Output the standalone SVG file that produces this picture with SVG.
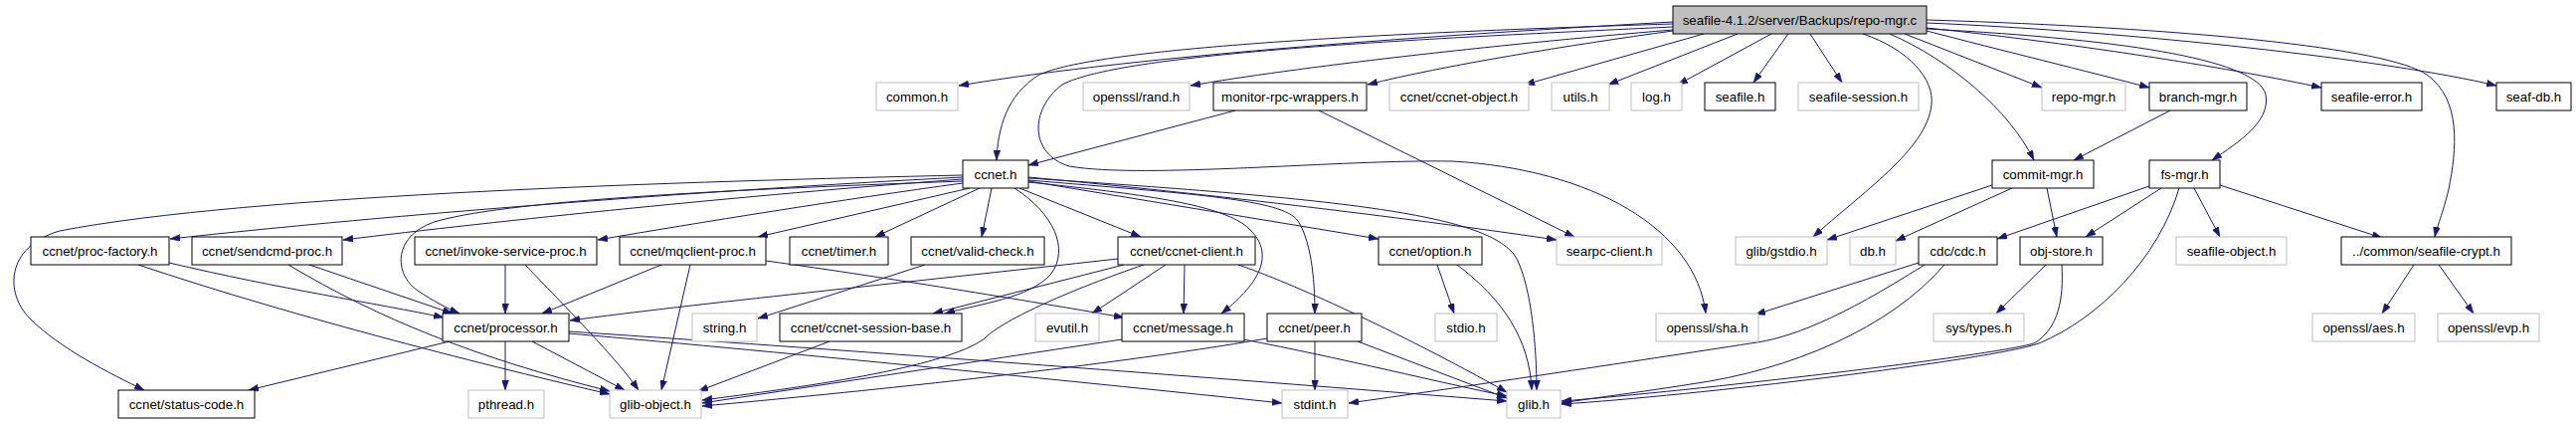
<svg xmlns="http://www.w3.org/2000/svg" width="2590" height="427" viewBox="0 0 2590 427">
<style>
.n rect{fill:#fff;stroke:#000;stroke-width:1}
.g rect{fill:#fff;stroke:#bfbfbf;stroke-width:1}
.r rect{fill:#bfbfbf;stroke:#000;stroke-width:1}
text{font-family:"Liberation Sans",Arial,Helvetica,sans-serif;font-size:13.33px;text-anchor:middle;fill:#000}
#edges path{fill:none;stroke:#191970;stroke-width:1;marker-end:url(#ah)}
</style>
<defs>
<marker id="ah" markerUnits="userSpaceOnUse" markerWidth="10" markerHeight="7" viewBox="0 0 10 7" refX="10" refY="3.5" orient="auto">
<path d="M0,0 L10,3.5 L0,7 z" fill="#191970" stroke="#191970" stroke-width="0.5"/>
</marker>
</defs>
<rect width="2590" height="427" fill="#fff"/>
<g id="edges">
<path d="M1682,22 C1450,35 1150,55 964,86"/>
<path d="M1682,24 C1350,34 1100,50 1045,75 C1012,95 1003,130 1002,161"/>
<path d="M1682,27 C1450,38 1130,52 1068,85 C1035,110 1035,155 1075,167 C1150,180 1350,160 1460,162 C1600,170 1705,230 1715,315"/>
<path d="M1682,30 C1500,45 1300,68 1197,86"/>
<path d="M1682,31 C1580,45 1450,66 1375,85"/>
<path d="M1713,34 L1533,85"/>
<path d="M1747,34 L1617,85"/>
<path d="M1781,34 L1687,85"/>
<path d="M1798,34 L1763,83"/>
<path d="M1820,34 L1852,83"/>
<path d="M1915,34 L2053,88"/>
<path d="M1937,31 C2010,50 2100,72 2161,88"/>
<path d="M1937,28 C2100,45 2250,70 2334,88"/>
<path d="M1937,23 C2150,32 2400,60 2510,86"/>
<path d="M1900,34 C1960,60 2020,110 2045,161"/>
<path d="M1937,29 C2150,40 2270,62 2278,95 C2283,122 2252,142 2224,161"/>
<path d="M1873,34 C1920,50 1945,80 1942,105 C1938,150 1870,195 1823,238"/>
<path d="M1937,20 C2200,28 2400,48 2440,75 C2475,100 2470,150 2462,190 C2456,215 2450,228 2448,238"/>
<path d="M1242,111 L1034,166"/>
<path d="M1326,111 L1583,238"/>
<path d="M968,176 C700,182 250,195 60,232 C5,248 5,295 30,320 C60,350 110,375 145,392"/>
<path d="M968,178 C700,192 400,215 171,240"/>
<path d="M968,180 C750,196 500,222 345,241"/>
<path d="M968,182 C750,190 520,200 440,222 C395,235 395,275 420,292 C435,302 450,310 462,315"/>
<path d="M968,184 C850,200 700,224 601,241"/>
<path d="M975,189 L762,238"/>
<path d="M985,189 L880,238"/>
<path d="M997,189 L987,238"/>
<path d="M1020,189 C1060,215 1075,250 1057,275 C1035,300 985,305 950,315"/>
<path d="M1025,189 L1147,238"/>
<path d="M1034,182 L1386,240"/>
<path d="M1034,178 C1250,198 1450,224 1565,241"/>
<path d="M1034,179 C1350,200 1500,215 1525,260 C1540,290 1545,350 1545,392"/>
<path d="M1034,181 C1200,195 1290,200 1305,222 C1320,245 1322,290 1322,315"/>
<path d="M1034,183 C1150,195 1220,205 1250,225 C1290,255 1260,290 1228,315"/>
<path d="M170,264 C280,290 380,305 446,319"/>
<path d="M139,266 C300,320 500,370 613,396"/>
<path d="M311,266 L455,315"/>
<path d="M290,266 C380,320 480,360 613,393"/>
<path d="M508,266 L508,315"/>
<path d="M528,266 C570,310 620,360 642,392"/>
<path d="M665,266 L545,315"/>
<path d="M694,266 L665,392"/>
<path d="M770,262 C900,280 1050,305 1130,319"/>
<path d="M930,266 L762,320"/>
<path d="M1124,260 C900,285 700,305 573,322"/>
<path d="M1130,266 L938,315"/>
<path d="M1172,266 L1098,315"/>
<path d="M1191,266 L1190,315"/>
<path d="M1150,266 C1080,290 1010,320 990,340 C950,370 800,390 706,402"/>
<path d="M1245,266 C1300,285 1400,330 1515,394"/>
<path d="M1445,266 L1462,315"/>
<path d="M1465,266 C1510,300 1538,340 1540,392"/>
<path d="M535,343 L628,392"/>
<path d="M508,343 L508,392"/>
<path d="M452,343 L250,392"/>
<path d="M572,335 C800,355 1100,385 1289,405"/>
<path d="M572,333 C900,355 1200,378 1515,403"/>
<path d="M834,343 L702,393"/>
<path d="M1128,341 L706,405"/>
<path d="M1250,341 C1350,360 1450,385 1515,398"/>
<path d="M1274,340 C1100,370 850,395 706,408"/>
<path d="M1322,343 L1322,392"/>
<path d="M1365,343 L1515,400"/>
<path d="M2003,186 L1837,241"/>
<path d="M2023,189 L1906,242"/>
<path d="M2058,189 L2068,238"/>
<path d="M2182,111 L2085,161"/>
<path d="M2161,187 L2008,240"/>
<path d="M2173,189 L2097,238"/>
<path d="M2191,189 C2170,260 2110,320 2050,345 C2000,362 1700,398 1570,406"/>
<path d="M2206,189 L2232,238"/>
<path d="M2232,186 L2395,239"/>
<path d="M1929,264 L1765,316"/>
<path d="M1935,266 C1850,320 1800,340 1760,345 C1650,362 1450,392 1356,405"/>
<path d="M1955,266 C1900,330 1800,372 1700,386 C1650,394 1600,400 1570,405"/>
<path d="M2057,266 L2007,315"/>
<path d="M2073,266 C2075,300 2070,330 2045,345 C2000,358 1700,393 1570,403"/>
<path d="M2427,266 L2395,315"/>
<path d="M2452,266 L2487,315"/>
</g>
<g id="root" class="r"><rect x="1682" y="6" width="255" height="28"/><text x="1809.5" y="24.5">seafile-4.1.2/server/Backups/repo-mgr.c</text></g>
<g id="common" class="g"><rect x="881" y="83" width="82" height="28"/><text x="922" y="101.5">common.h</text></g>
<g id="rand" class="g"><rect x="1089" y="83" width="107" height="28"/><text x="1142.5" y="101.5">openssl/rand.h</text></g>
<g id="monitor" class="n"><rect x="1220" y="83" width="154" height="28"/><text x="1297" y="101.5">monitor-rpc-wrappers.h</text></g>
<g id="ccobj" class="g"><rect x="1397" y="83" width="140" height="28"/><text x="1467" y="101.5">ccnet/ccnet-object.h</text></g>
<g id="utils" class="g"><rect x="1560" y="83" width="58" height="28"/><text x="1589" y="101.5">utils.h</text></g>
<g id="log" class="g"><rect x="1640" y="83" width="51" height="28"/><text x="1665.5" y="101.5">log.h</text></g>
<g id="seafile" class="n"><rect x="1714" y="83" width="71" height="28"/><text x="1749.5" y="101.5">seafile.h</text></g>
<g id="session" class="g"><rect x="1808" y="83" width="121" height="28"/><text x="1868.5" y="101.5">seafile-session.h</text></g>
<g id="repomgr" class="g"><rect x="2053" y="83" width="84" height="28"/><text x="2095" y="101.5">repo-mgr.h</text></g>
<g id="branch" class="n"><rect x="2161" y="83" width="98" height="28"/><text x="2210" y="101.5">branch-mgr.h</text></g>
<g id="seaferr" class="n"><rect x="2334" y="83" width="101" height="28"/><text x="2384.5" y="101.5">seafile-error.h</text></g>
<g id="seafdb" class="n"><rect x="2510" y="83" width="75" height="28"/><text x="2547.5" y="101.5">seaf-db.h</text></g>
<g id="ccnet" class="n"><rect x="968" y="161" width="66" height="28"/><text x="1001" y="179.5">ccnet.h</text></g>
<g id="commit" class="n"><rect x="2003" y="161" width="102" height="28"/><text x="2054" y="179.5">commit-mgr.h</text></g>
<g id="fsmgr" class="n"><rect x="2161" y="161" width="71" height="28"/><text x="2196.5" y="179.5">fs-mgr.h</text></g>
<g id="procfactory" class="n"><rect x="31" y="238" width="139" height="28"/><text x="100.5" y="256.5">ccnet/proc-factory.h</text></g>
<g id="sendcmd" class="n"><rect x="193" y="238" width="151" height="28"/><text x="268.5" y="256.5">ccnet/sendcmd-proc.h</text></g>
<g id="invoke" class="n"><rect x="417" y="238" width="183" height="28"/><text x="508.5" y="256.5">ccnet/invoke-service-proc.h</text></g>
<g id="mqclient" class="n"><rect x="623" y="238" width="147" height="28"/><text x="696.5" y="256.5">ccnet/mqclient-proc.h</text></g>
<g id="timer" class="n"><rect x="794" y="238" width="99" height="28"/><text x="843.5" y="256.5">ccnet/timer.h</text></g>
<g id="validcheck" class="n"><rect x="916" y="238" width="134" height="28"/><text x="983" y="256.5">ccnet/valid-check.h</text></g>
<g id="ccclient" class="n"><rect x="1124" y="238" width="138" height="28"/><text x="1193" y="256.5">ccnet/ccnet-client.h</text></g>
<g id="option" class="n"><rect x="1386" y="238" width="104" height="28"/><text x="1438" y="256.5">ccnet/option.h</text></g>
<g id="searpc" class="g"><rect x="1565" y="238" width="106" height="28"/><text x="1618" y="256.5">searpc-client.h</text></g>
<g id="gstdio" class="g"><rect x="1745" y="238" width="92" height="28"/><text x="1791" y="256.5">glib/gstdio.h</text></g>
<g id="dbh" class="g"><rect x="1860" y="238" width="46" height="28"/><text x="1883" y="256.5">db.h</text></g>
<g id="cdc" class="n"><rect x="1929" y="238" width="79" height="28"/><text x="1968.5" y="256.5">cdc/cdc.h</text></g>
<g id="objstore" class="n"><rect x="2031" y="238" width="83" height="28"/><text x="2072.5" y="256.5">obj-store.h</text></g>
<g id="seafobj" class="g"><rect x="2188" y="238" width="111" height="28"/><text x="2243.5" y="256.5">seafile-object.h</text></g>
<g id="crypt" class="n"><rect x="2354" y="238" width="171" height="28"/><text x="2439.5" y="256.5">../common/seafile-crypt.h</text></g>
<g id="processor" class="n"><rect x="445" y="315" width="127" height="28"/><text x="508.5" y="333.5">ccnet/processor.h</text></g>
<g id="string" class="g"><rect x="696" y="315" width="65" height="28"/><text x="728.5" y="333.5">string.h</text></g>
<g id="sessbase" class="n"><rect x="784" y="315" width="183" height="28"/><text x="875.5" y="333.5">ccnet/ccnet-session-base.h</text></g>
<g id="evutil" class="g"><rect x="1041" y="315" width="64" height="28"/><text x="1073" y="333.5">evutil.h</text></g>
<g id="message" class="n"><rect x="1128" y="315" width="123" height="28"/><text x="1189.5" y="333.5">ccnet/message.h</text></g>
<g id="peer" class="n"><rect x="1274" y="315" width="95" height="28"/><text x="1321.5" y="333.5">ccnet/peer.h</text></g>
<g id="stdio" class="g"><rect x="1443" y="315" width="62" height="28"/><text x="1474" y="333.5">stdio.h</text></g>
<g id="sha" class="g"><rect x="1665" y="315" width="103" height="28"/><text x="1716.5" y="333.5">openssl/sha.h</text></g>
<g id="systypes" class="g"><rect x="1944" y="315" width="91" height="28"/><text x="1989.5" y="333.5">sys/types.h</text></g>
<g id="aes" class="g"><rect x="2325" y="315" width="103" height="28"/><text x="2376.5" y="333.5">openssl/aes.h</text></g>
<g id="evp" class="g"><rect x="2451" y="315" width="102" height="28"/><text x="2502" y="333.5">openssl/evp.h</text></g>
<g id="statuscode" class="n"><rect x="119" y="392" width="137" height="28"/><text x="187.5" y="410.5">ccnet/status-code.h</text></g>
<g id="pthread" class="g"><rect x="471" y="392" width="76" height="28"/><text x="509" y="410.5">pthread.h</text></g>
<g id="globject" class="g"><rect x="613" y="392" width="92" height="28"/><text x="659" y="410.5">glib-object.h</text></g>
<g id="stdint" class="g"><rect x="1289" y="392" width="66" height="28"/><text x="1322" y="410.5">stdint.h</text></g>
<g id="glibh" class="g"><rect x="1515" y="392" width="54" height="28"/><text x="1542" y="410.5">glib.h</text></g>
</svg>
